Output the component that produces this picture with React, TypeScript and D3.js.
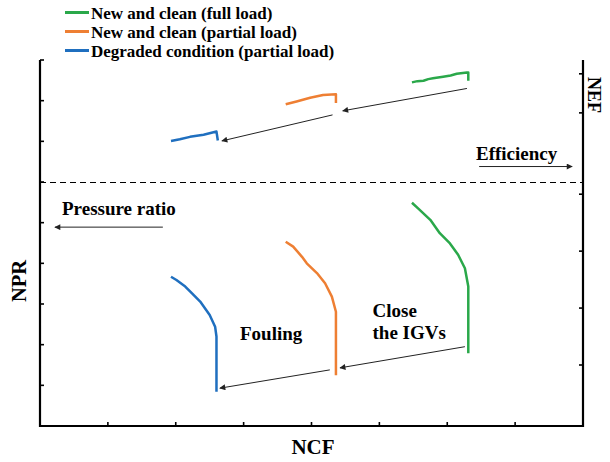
import React from "react";
import * as d3 from "d3";

// ---- data (NCF, NPR/NEF in arbitrary units) ----
const greenNPR: [number, number][] = [
  [5.48, 5.49], [5.57, 5.35], [5.75, 5.07], [5.89, 4.74], [6.04, 4.49],
  [6.16, 4.21], [6.26, 3.88], [6.31, 3.43], [6.31, 1.79],
];
const orangeNPR: [number, number][] = [
  [3.62, 4.53], [3.73, 4.41], [3.86, 4.16], [3.93, 4.0], [4.08, 3.76],
  [4.2, 3.51], [4.3, 3.18], [4.36, 2.81], [4.36, 1.25],
];
const blueNPR: [number, number][] = [
  [1.93, 3.67], [2.01, 3.59], [2.14, 3.43], [2.24, 3.26], [2.36, 3.06],
  [2.5, 2.73], [2.58, 2.44], [2.6, 2.2], [2.6, 0.84],
];
const greenNEF: [number, number][] = [
  [5.48, 8.45], [5.56, 8.48], [5.65, 8.49], [5.72, 8.53], [5.79, 8.55],
  [5.94, 8.59], [6.05, 8.62], [6.14, 8.66], [6.29, 8.69], [6.31, 8.69], [6.31, 8.49],
];
const orangeNEF: [number, number][] = [
  [3.62, 7.91], [3.78, 7.98], [3.98, 8.07], [4.17, 8.14], [4.36, 8.16], [4.36, 7.94],
];
const blueNEF: [number, number][] = [
  [1.93, 7.01], [2.06, 7.05], [2.21, 7.11], [2.41, 7.16], [2.6, 7.24], [2.62, 7.02],
];

const seriesNames = [
  "New and clean (full load)",
  "New and clean (partial load)",
  "Degraded condition (partial load)",
];
const seriesColors = ["#2aa84a", "#ee7f33", "#1f6fbf"];

// arrows: [x1, y1, x2, y2]
const shiftArrows: [number, number, number, number][] = [
  [6.29, 8.3, 4.46, 7.75],
  [4.31, 7.65, 2.68, 7.01],
  [6.26, 1.95, 4.42, 1.43],
  [4.27, 1.38, 2.65, 0.93],
];
const efficiencyArrow: [number, number, number, number] = [6.47, 6.38, 7.84, 6.38];
const pressureArrow: [number, number, number, number] = [1.81, 4.89, 0.22, 4.89];
const dividerY = 6;

const xTicks = [1, 2, 3, 4, 5, 6, 7];
const leftTicks = [1, 2, 3, 4, 5, 6, 7, 8, 9];
const rightTicks = [1.5, 2.9, 4.3, 5.7, 7.7, 8.66];

export default function App() {
  const W = 610, H = 462;
  const x = d3.scaleLinear().domain([0, 8]).range([40, 583]);
  const y = d3.scaleLinear().domain([0, 9]).range([426, 60]);
  const line = d3
    .line<[number, number]>()
    .x((d) => x(d[0]))
    .y((d) => y(d[1]))
    .curve(d3.curveLinear);

  const font = "'Liberation Serif', 'Times New Roman', serif";
  const curves = [
    { d: greenNPR, c: seriesColors[0] },
    { d: orangeNPR, c: seriesColors[1] },
    { d: blueNPR, c: seriesColors[2] },
    { d: greenNEF, c: seriesColors[0] },
    { d: orangeNEF, c: seriesColors[1] },
    { d: blueNEF, c: seriesColors[2] },
  ];
  const arrow = (a: [number, number, number, number], i: number) => (
    <line
      key={"a" + i}
      x1={x(a[0])}
      y1={y(a[1])}
      x2={x(a[2])}
      y2={y(a[3])}
      stroke="#222"
      strokeWidth={1}
      markerEnd="url(#ah)"
    />
  );

  return (
    <svg
      width={W}
      height={H}
      style={{ position: "absolute", left: 0, top: 0, background: "#fff" }}
      fontFamily={font}
      fontWeight="bold"
    >
      <defs>
        <marker
          id="ah"
          viewBox="0 0 10 10"
          refX={9}
          refY={5}
          markerWidth={8}
          markerHeight={6}
          markerUnits="userSpaceOnUse"
          orient="auto"
        >
          <path d="M0,0 L10,5 L0,10 z" fill="#222" />
        </marker>
      </defs>
      <rect width={W} height={H} fill="#fff" />

      {/* divider */}
      <line
        x1={x(0)}
        x2={x(8)}
        y1={Math.round(y(dividerY)) + 0.5}
        y2={Math.round(y(dividerY)) + 0.5}
        stroke="#000"
        strokeWidth={1.1}
        strokeDasharray="6,4"
      />

      {/* axes */}
      <g stroke="#000" strokeWidth={2.2} fill="none">
        <path d={`M${x(0)},${y(9)} V${y(0)} H${x(8)} V${y(9)}`} strokeLinejoin="miter" />
        {leftTicks.map((t) => (
          <line key={"l" + t} x1={x(0)} x2={x(0) + 4} y1={y(t)} y2={y(t)} strokeWidth={1.6} />
        ))}
        {xTicks.map((t) => (
          <line key={"b" + t} x1={x(t)} x2={x(t)} y1={y(0)} y2={y(0) - 4} strokeWidth={1.6} />
        ))}
        {rightTicks.map((t) => (
          <line key={"r" + t} x1={x(8)} x2={x(8) - 4} y1={y(t)} y2={y(t)} strokeWidth={1.6} />
        ))}
      </g>

      {/* curves */}
      {curves.map((s, i) => (
        <path
          key={"c" + i}
          d={line(s.d) || ""}
          fill="none"
          stroke={s.c}
          strokeWidth={2.5}
          strokeLinejoin="round"
          strokeLinecap="butt"
        />
      ))}

      {/* arrows */}
      {shiftArrows.map(arrow)}
      {arrow(efficiencyArrow, 10)}
      {arrow(pressureArrow, 11)}

      {/* annotations */}
      <g fontSize={19} fill="#000">
        <text x={476} y={160}>Efficiency</text>
        <text x={62} y={214.5}>Pressure ratio</text>
        <text x={240} y={339.5}>Fouling</text>
        <text x={372.5} y={316.5}>Close</text>
        <text x={372.5} y={338.5}>the IGVs</text>
      </g>

      {/* axis titles */}
      <text x={313} y={454} fontSize={21} textAnchor="middle">NCF</text>
      <text
        transform="translate(26,281) rotate(-90)"
        fontSize={20.5}
        textAnchor="middle"
      >
        NPR
      </text>
      <text
        transform="translate(588,95) rotate(90)"
        fontSize={18}
        textAnchor="middle"
      >
        NEF
      </text>

      {/* legend */}
      {seriesNames.map((n, i) => (
        <g key={"lg" + i}>
          <line
            x1={65}
            x2={89}
            y1={12.5 + i * 19}
            y2={12.5 + i * 19}
            stroke={seriesColors[i]}
            strokeWidth={3}
          />
          <text x={91} y={18.5 + i * 19} fontSize={17}>
            {n}
          </text>
        </g>
      ))}
    </svg>
  );
}
